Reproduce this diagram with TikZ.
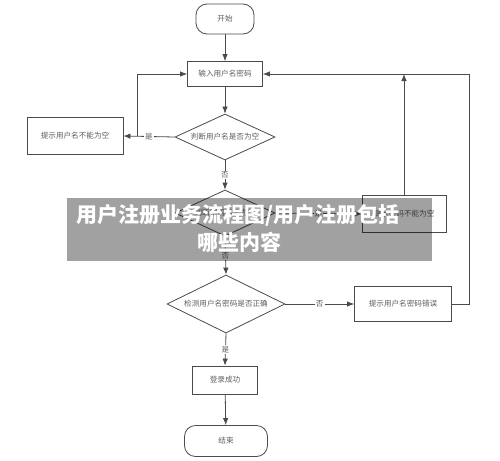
\documentclass[tikz,border=0pt]{standalone}
\usepackage{fontspec}
\usetikzlibrary{shapes.geometric,arrows.meta}
\newfontfamily\cjk{Noto Sans CJK SC}
\definecolor{linecol}{RGB}{75,75,75}
\definecolor{txtcol}{RGB}{95,95,95}
\tikzset{
	box/.style={draw=linecol, line width=0.8pt, fill=white, inner sep=0pt, text=txtcol, font=\cjk\fontsize{7.6}{9}\selectfont},
	term/.style={box, rounded corners=11pt},
	decide/.style={box, diamond, aspect=2},
	flow/.style={draw=linecol, line width=0.8pt, -{Latex[length=7pt,width=5.5pt]}},
	tag/.style={fill=white, inner sep=1pt, text=txtcol, font=\cjk\fontsize{7.6}{9}\selectfont}
}
\begin{document}
\begin{tikzpicture}[x=1pt, y=-1pt]
	\fill[white] (0,0) rectangle (500,460);
	\useasboundingbox (0,0) rectangle (500,460);
	\node[term, minimum width=58, minimum height=30] (start) at (225,19) {开始};
	\node[box, minimum width=75, minimum height=25] (input) at (225,74) {输入用户名密码};
	\node[decide, minimum width=100, minimum height=46] (chkname) at (225,137) {判断用户名是否为空};
	\node[box, minimum width=96, minimum height=37] (noname) at (75,136) {提示用户名不能为空};
	\node[decide, minimum width=100, minimum height=46] (chkpwd) at (225,213) {判断密码是否为空};
	\node[box, minimum width=84, minimum height=37] (nopwd) at (404,214) {提示密码不能为空};
	\node[decide, minimum width=118, minimum height=58] (check) at (226,304) {检测用户名密码是否正确};
	\node[box, minimum width=97, minimum height=35] (wrong) at (403,304) {提示用户名密码错误};
	\node[box, minimum width=65, minimum height=28] (ok) at (225,380) {登录成功};
	\node[term, minimum width=83, minimum height=31] (stop) at (226,441) {结束};
	\coordinate (jl) at (137,136);
	\coordinate (tr) at (469,74);
	\draw[flow] (start) -- (input);
	\draw[flow] (input) -- (chkname);
	\draw[flow] (chkname.west) -- node[tag] {是} (noname.east);
	\draw[flow] (jl) |- (input.west);
	\draw[flow] (chkname.south) -- node[tag] {否} (chkpwd.north);
	\draw[flow] (chkpwd.east) -- node[tag] {是} (nopwd.west);
	\draw[flow] (nopwd.north) -- (nopwd.north |- tr);
	\draw[flow] (chkpwd.south) -- node[tag] {否} (check.north);
	\draw[flow] (check.east) -- node[tag] {否} (wrong.west);
	\draw[flow] (wrong.east) -| (tr) -- (input.east);
	\draw[flow] (check.south) -- node[tag] {是} (ok.north);
	\draw[flow] (ok) -- (stop);
	\fill[black, opacity=0.37] (67,198) rectangle (432,261);
	\node[text=white, font=\cjk\bfseries\fontsize{21}{24}\selectfont] (title) at (238,215) {用户注册业务流程图/用户注册包括};
	\node[text=white, font=\cjk\bfseries\fontsize{21}{24}\selectfont] (title2) at (239,242) {哪些内容};
\end{tikzpicture}
\end{document}
